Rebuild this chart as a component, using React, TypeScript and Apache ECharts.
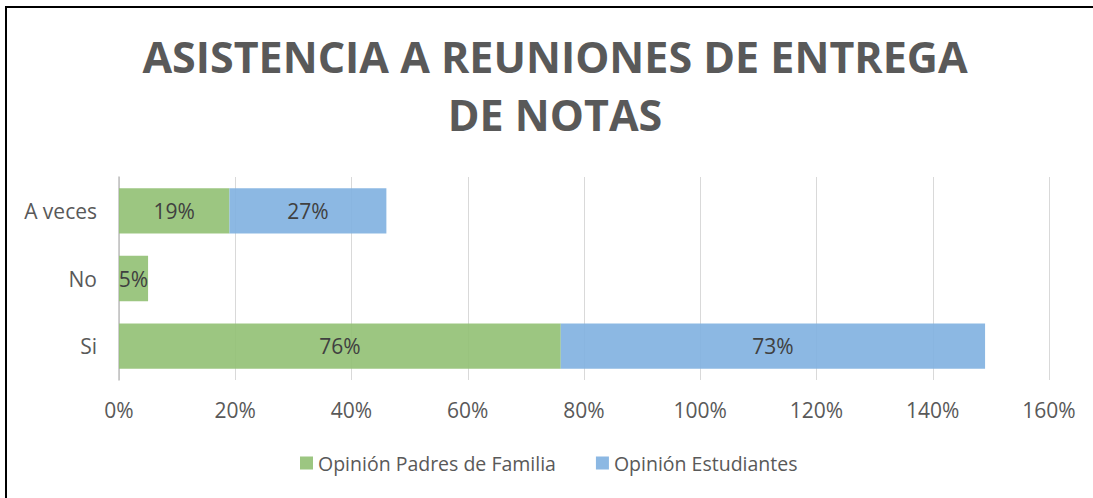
import React, { useEffect, useRef } from "react";
import * as echarts from "echarts";

const categories = ["Si", "No", "A veces"];
const padres = [76, 5, 19];
const estudiantes = [73, 0, 27];
const xTicks = { min: 0, max: 160, interval: 20 };
const titleText = "ASISTENCIA A REUNIONES DE ENTREGA\nDE NOTAS";
const seriesNames = ["Opinión Padres de Familia", "Opinión Estudiantes"];

const FONT = "'Open Sans', 'Noto Sans', sans-serif";

export default function App() {
  const ref = useRef<HTMLDivElement>(null);
  useEffect(() => {
    if (!ref.current) return;
    const chart = echarts.init(ref.current, undefined, { renderer: "svg" });
    const label = {
      show: true,
      position: "inside",
      color: "#404040",
      fontSize: 21,
      fontFamily: FONT,
      formatter: (p: any) => (p.value ? p.value + "%" : ""),
    };
    chart.setOption({
      animation: false,
      backgroundColor: "#ffffff",
      title: {
        text: titleText,
        left: 550,
        textAlign: "center",
        top: 22,
        textStyle: {
          color: "#595959",
          fontSize: 43,
          fontWeight: "bold",
          fontFamily: FONT,
          lineHeight: 58,
        },
      },
      legend: {
        left: 295,
        top: 448,
        itemWidth: 13,
        itemHeight: 13,
        itemGap: 40,
        icon: "rect",
        textStyle: { color: "#595959", fontSize: 19.5, fontFamily: FONT },
        data: seriesNames,
      },
      grid: { left: 119, right: 44, top: 177, bottom: 118 },
      xAxis: {
        type: "value",
        min: xTicks.min,
        max: xTicks.max,
        interval: xTicks.interval,
        axisLine: { show: false },
        axisTick: { show: false },
        splitLine: { lineStyle: { color: "#d9d9d9", width: 1 } },
        axisLabel: {
          color: "#595959",
          fontSize: 21,
          fontFamily: FONT,
          margin: 19,
          formatter: (v: number) => v + "%",
        },
      },
      yAxis: {
        type: "category",
        data: categories,
        axisLine: { show: true, lineStyle: { color: "#bfbfbf", width: 1.5 } },
        axisTick: { show: false },
        axisLabel: { color: "#595959", fontSize: 21, fontFamily: FONT, margin: 22 },
      },
      series: [
        {
          name: seriesNames[0],
          type: "bar",
          stack: "total",
          barCategoryGap: "33%",
          data: padres,
          itemStyle: { color: "rgba(145,192,115,0.9)" },
          label,
        },
        {
          name: seriesNames[1],
          type: "bar",
          stack: "total",
          barCategoryGap: "33%",
          data: estudiantes,
          itemStyle: { color: "rgba(128,176,224,0.9)" },
          label,
        },
      ],
      graphic: [
        { type: "line", shape: { x1: 5, y1: 7, x2: 1093, y2: 7 }, style: { stroke: "#000", lineWidth: 2 } },
        { type: "line", shape: { x1: 6, y1: 6, x2: 6, y2: 498 }, style: { stroke: "#000", lineWidth: 2 } },
      ],
    });
    return () => chart.dispose();
  }, []);
  return (
    <div
      ref={ref}
      style={{ position: "fixed", left: 0, top: 0, width: 1093, height: 498 }}
    />
  );
}
